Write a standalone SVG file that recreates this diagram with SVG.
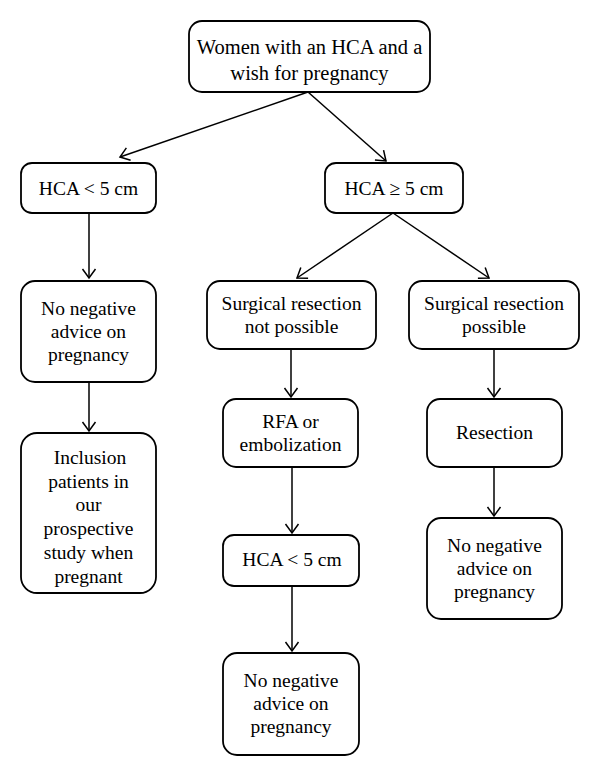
<svg xmlns="http://www.w3.org/2000/svg" width="600" height="776" viewBox="0 0 600 776">
<defs>
<style>
.box{fill:#fff;stroke:#000;stroke-width:1.8}
.t{font-family:"Liberation Serif","Times New Roman",serif;font-size:19.5px;fill:#000;text-anchor:middle}
.big{font-size:20.5px}
.c{stroke:#000;stroke-width:1.5;fill:none;marker-end:url(#ah)}
</style>
<marker id="ah" viewBox="-10 -8 12 16" refX="0" refY="0" markerWidth="12" markerHeight="16" markerUnits="userSpaceOnUse" orient="auto">
<path d="M-9,-6.5 L0,0 L-9,6.5" fill="none" stroke="#000" stroke-width="1.5"/>
</marker>
</defs>
<rect width="600" height="776" fill="#fff"/>
<g id="connectors">
<line class="c" x1="308" y1="92" x2="120" y2="157"/>
<line class="c" x1="308" y1="92" x2="386" y2="161"/>
<line class="c" x1="89" y1="213" x2="89" y2="278"/>
<line class="c" x1="89" y1="382" x2="89" y2="431"/>
<line class="c" x1="393" y1="213" x2="297" y2="278"/>
<line class="c" x1="393" y1="213" x2="489" y2="278"/>
<line class="c" x1="291" y1="349" x2="291" y2="397"/>
<line class="c" x1="494" y1="349" x2="494" y2="397"/>
<line class="c" x1="292" y1="467" x2="292" y2="533"/>
<line class="c" x1="292" y1="586" x2="292" y2="651"/>
<line class="c" x1="494" y1="467" x2="494" y2="516"/>
</g>
<g id="n-top">
<rect class="box" x="189" y="21" width="241" height="71" rx="13"/>
<text class="t big" x="309.5" y="54">Women with an HCA and a</text>
<text class="t big" x="309.5" y="80">wish for pregnancy</text>
</g>
<g id="n-small">
<rect class="box" x="21" y="163" width="135" height="50" rx="11"/>
<text class="t" x="88.5" y="195">HCA &lt; 5 cm</text>
</g>
<g id="n-large">
<rect class="box" x="325" y="163" width="138" height="50" rx="11"/>
<text class="t" x="394" y="195">HCA ≥ 5 cm</text>
</g>
<g id="n-noneg1">
<rect class="box" x="21" y="281" width="135" height="101" rx="14"/>
<text class="t" x="88.5" y="315">No negative</text>
<text class="t" x="88.5" y="338">advice on</text>
<text class="t" x="88.5" y="361">pregnancy</text>
</g>
<g id="n-inclusion">
<rect class="box" x="21" y="433" width="135" height="160" rx="16"/>
<text class="t" x="90" y="464">Inclusion</text>
<text class="t" x="88.5" y="488">patients in</text>
<text class="t" x="88.5" y="511">our</text>
<text class="t" x="88.5" y="535">prospective</text>
<text class="t" x="88.5" y="559">study when</text>
<text class="t" x="88.5" y="583">pregnant</text>
</g>
<g id="n-notpossible">
<rect class="box" x="207" y="281" width="169" height="68" rx="13"/>
<text class="t" x="291.5" y="310">Surgical resection</text>
<text class="t" x="291.5" y="333">not possible</text>
</g>
<g id="n-possible">
<rect class="box" x="409" y="281" width="170" height="68" rx="13"/>
<text class="t" x="494" y="310">Surgical resection</text>
<text class="t" x="494" y="333">possible</text>
</g>
<g id="n-rfa">
<rect class="box" x="223" y="399" width="135" height="68" rx="13"/>
<text class="t" x="290.5" y="428">RFA or</text>
<text class="t" x="290.5" y="451">embolization</text>
</g>
<g id="n-resection">
<rect class="box" x="427" y="399" width="135" height="68" rx="13"/>
<text class="t" x="494.5" y="439">Resection</text>
</g>
<g id="n-small2">
<rect class="box" x="223" y="535" width="136" height="51" rx="11"/>
<text class="t" x="292" y="566">HCA &lt; 5 cm</text>
</g>
<g id="n-noneg2">
<rect class="box" x="223" y="653" width="136" height="102" rx="14"/>
<text class="t" x="291" y="687">No negative</text>
<text class="t" x="291" y="710">advice on</text>
<text class="t" x="291" y="733">pregnancy</text>
</g>
<g id="n-noneg3">
<rect class="box" x="427" y="518" width="135" height="101" rx="14"/>
<text class="t" x="494.5" y="552">No negative</text>
<text class="t" x="494.5" y="575">advice on</text>
<text class="t" x="494.5" y="598">pregnancy</text>
</g>
</svg>
